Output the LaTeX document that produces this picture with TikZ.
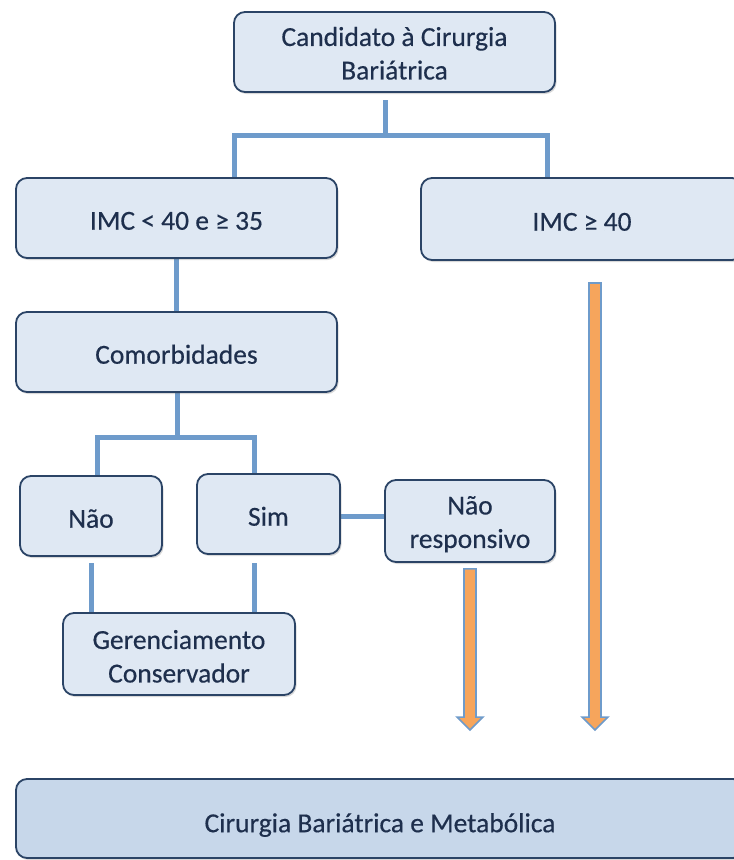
\documentclass[tikz,border=0pt]{standalone}
\usepackage{fontspec}
\setmainfont{Carlito}[FakeBold=0.4]
\usetikzlibrary{calc,shadows}

\definecolor{boxfill}{HTML}{DFE8F3}
\definecolor{boxfilldark}{HTML}{C7D7EA}
\definecolor{boxline}{HTML}{2B4466}
\definecolor{txt}{HTML}{1E2F4D}
\definecolor{connblue}{HTML}{6E9BCB}
\definecolor{orangefill}{HTML}{F6A55C}

\tikzset{
  box/.style={draw=boxline, line width=1.8pt, fill=boxfill, rounded corners=11pt,
    text=txt, inner sep=0pt, font=\fontsize{27.5}{33.5}\selectfont,
    drop shadow={shadow xshift=1.5pt, shadow yshift=-2pt, opacity=0.25, fill=black!60}},
  conn/.style={draw=connblue, line width=5pt, line join=miter},
  fatarrow/.style={draw=connblue, line width=1.6pt, fill=orangefill, line join=miter},
}

% centred box text, set a little below the geometric middle
\newcommand\boxtext[2][5pt]{%
  \raisebox{-#1}[\height][\depth]{\begin{tabular}{@{}c@{}}#2\end{tabular}}}

% broad block arrow from one named point down to another
\newcommand\blockarrow[2]{%
  \draw[fatarrow] ($(#1)+(-6,0)$) -- ($(#1)+(6,0)$) -- ($(#2)+(6,-13)$)
    -- ($(#2)+(13,-13)$) -- (#2) -- ($(#2)+(-13,-13)$) -- ($(#2)+(-6,-13)$) -- cycle;}

\begin{document}
\begin{tikzpicture}[x=1pt, y=-1pt]
\useasboundingbox (0,0) rectangle (734,860);
\clip (0,0) rectangle (734,860);

% connector layout points
\coordinate (j1) at (385,135);
\coordinate (j2) at (177,437);
\coordinate (xn) at (97,0);
\coordinate (xs) at (254,0);

% connectors (drawn first, boxes sit on top)
\draw[conn] (j1 |- 0,100) -- (j1);
\draw[conn] (234,178) |- (j1) -| (547,178);
\draw[conn] (176.5,258) -- (176.5,312);
\draw[conn] (177,392) -- (j2);
\draw[conn] (xn |- 0,476) |- (j2) -| (xs |- 0,474);
\draw[conn] (91,563) -- (91,613);
\draw[conn] (xs |- 0,563) -- (xs |- 0,613);
\draw[conn] (340,516) -- (385,516);

% boxes
\node[box, minimum width=321pt, minimum height=80pt] (top) at (394.5,52) {\boxtext[4pt]{Candidato à Cirurgia\\Bariátrica}};
\node[box, minimum width=321pt, minimum height=80pt] (imc1) at (176.5,218) {\boxtext{IMC < 40 e ≥ 35}};
\node[box, minimum width=322pt, minimum height=82pt] (imc2) at (582,219) {\boxtext{IMC ≥ 40}};
\node[box, minimum width=321pt, minimum height=80pt] (com) at (176.5,352) {\boxtext{Comorbidades}};
\node[box, minimum width=142pt, minimum height=80pt] (nao) at (91,516) {\boxtext{Não}};
\node[box, minimum width=143pt, minimum height=80pt] (sim) at (268.5,514) {\boxtext{Sim}};
\node[box, minimum width=170pt, minimum height=82pt] (nr) at (470,521) {\boxtext[3.5pt]{Não\\responsivo}};
\node[box, minimum width=232pt, minimum height=82pt] (ger) at (179,654) {\boxtext{Gerenciamento\\Conservador}};
\node[box, fill=boxfilldark, minimum width=728pt, minimum height=79pt] (bot) at (380,818.5) {\boxtext[7pt]{Cirurgia Bariátrica e Metabólica}};

% block arrows into the final box
\coordinate (a1s) at ($(nr.south)+(0,6)$);
\coordinate (a1e) at ($(bot.north -| nr.south)+(0,-48)$);
\coordinate (a2s) at (595,283);
\coordinate (a2e) at (a2s |- a1e);
\blockarrow{a1s}{a1e}
\blockarrow{a2s}{a2e}
\end{tikzpicture}
\end{document}
